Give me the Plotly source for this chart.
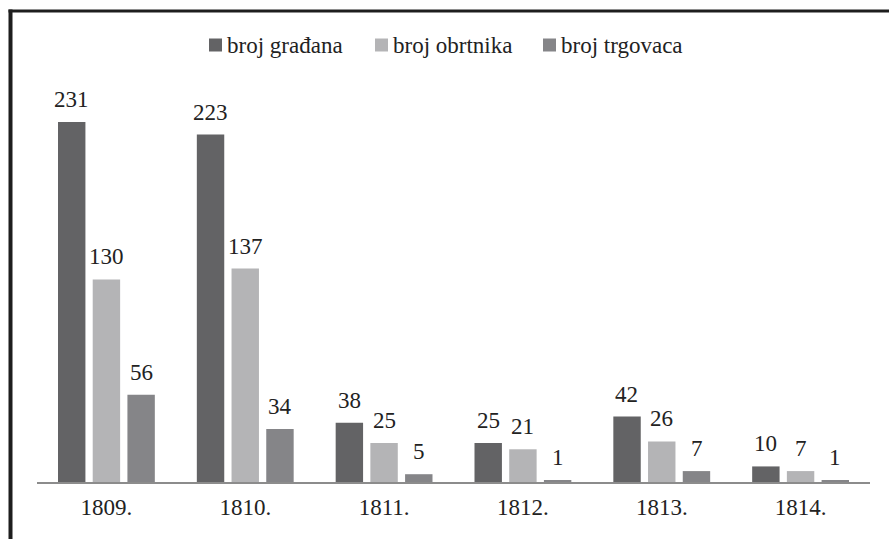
import plotly.graph_objects as go

years = ["1809.", "1810.", "1811.", "1812.", "1813.", "1814."]
gradjana = [231, 223, 38, 25, 42, 10]
obrtnika = [130, 137, 25, 21, 26, 7]
trgovaca = [56, 34, 5, 1, 7, 1]
series_names = ["broj građana", "broj obrtnika", "broj trgovaca"]
colors = ["#636365", "#b4b4b6", "#858588"]

W, H = 889, 539
ml, mr, mt, mb = 37, 19, 80, 57
pw, ph = W - ml - mr, H - mt - mb
FONT = "Liberation Serif"
TXT = "#222222"

def px_x(p):
    return (p - ml) / pw

def px_y(p):
    return (H - mb - p) / ph

fig = go.Figure()
all_series = [gradjana, obrtnika, trgovaca]
for name, vals, col in zip(series_names, all_series, colors):
    fig.add_trace(go.Bar(x=years, y=vals, name=name, marker_color=col,
                         marker_line_width=0, showlegend=False, hoverinfo="skip"))

# value labels above bars (x given as category index)
slot = 34.8
annotations = []
for i, vals in enumerate(all_series):
    for k, v in enumerate(vals):
        annotations.append(dict(x=k, y=v, xref="x", yref="y", text=str(v),
                                showarrow=False, xshift=(i - 1) * slot, yshift=8,
                                yanchor="bottom", xanchor="center",
                                font=dict(family=FONT, size=23, color=TXT)))

# legend (manual, to match spacing)
legend_marker_x = [209, 375, 543]
shapes = []
for name, col, mx in zip(series_names, colors, legend_marker_x):
    shapes.append(dict(type="rect", xref="paper", yref="paper",
                       x0=px_x(mx), x1=px_x(mx + 13), y0=px_y(51.5), y1=px_y(38.5),
                       fillcolor=col, line=dict(width=0)))
    annotations.append(dict(x=px_x(mx + 16), y=px_y(45), xref="paper", yref="paper",
                            text=name, showarrow=False, xanchor="left", yanchor="middle",
                            font=dict(family=FONT, size=23, color=TXT)))

# frame lines (top and left)
shapes += [
    dict(type="line", xref="paper", yref="paper", x0=px_x(8.5), x1=px_x(889),
         y0=px_y(11), y1=px_y(11), line=dict(color="#1e1e1e", width=3)),
    dict(type="line", xref="paper", yref="paper", x0=px_x(10.5), x1=px_x(10.5),
         y0=px_y(9.5), y1=px_y(539), line=dict(color="#1e1e1e", width=4)),
]

fig.update_layout(
    width=W, height=H,
    margin=dict(l=ml, r=mr, t=mt, b=mb),
    paper_bgcolor="white", plot_bgcolor="white",
    barmode="group", bargap=0.25, bargroupgap=0.21,
    font=dict(family=FONT, size=23, color=TXT),
    showlegend=False,
    xaxis=dict(type="category", categoryorder="array", categoryarray=years,
               range=[-0.5, len(years) - 0.5], autorange=False,
               showgrid=False, showline=True, linecolor="#8c8c8c", linewidth=2,
               ticks="", ticklabelstandoff=3,
               tickfont=dict(family=FONT, size=23, color=TXT)),
    yaxis=dict(range=[0, 258], autorange=False, visible=False,
               showgrid=False, zeroline=False),
    annotations=annotations,
    shapes=shapes,
)

fig.write_html("out.html", config={"displayModeBar": False},
               post_script="document.body.style.margin='0';document.body.style.overflow='hidden';")
